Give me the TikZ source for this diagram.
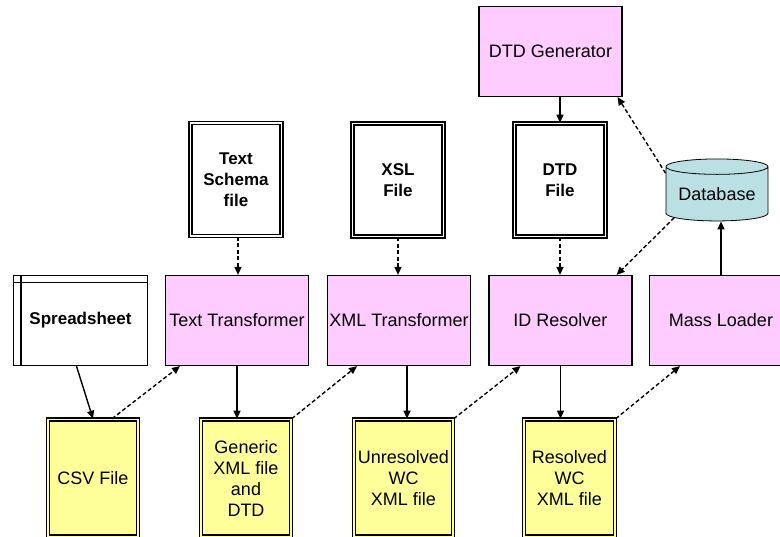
\documentclass[tikz,border=0pt]{standalone}
\usepackage{fontspec}
\setmainfont{Liberation Sans}
\usetikzlibrary{arrows.meta,shapes.geometric}
\definecolor{procpink}{HTML}{FFCCFF}
\definecolor{fileyellow}{HTML}{FFFF99}
\definecolor{dbblue}{HTML}{BBE0E3}
\tikzset{
  proc/.style={draw, line width=1.2pt, fill=procpink, minimum width=143pt, minimum height=90pt, inner sep=0pt},
  infile/.style={draw, line width=1.6pt, double=white, double distance=1.4pt, fill=white,
    minimum width=91pt, minimum height=113pt, inner sep=0pt, align=center, font=\fontsize{17}{21}\selectfont\bfseries},
  outfile/.style={draw, line width=1.6pt, double=fileyellow, double distance=1.4pt, fill=fileyellow,
    minimum height=117pt, inner sep=0pt, align=center},
  arr/.style={line width=1.4pt, -{Triangle[length=8pt,width=7pt]}},
  darr/.style={arr, dash pattern=on 4pt off 2.5pt}
}
\begin{document}
\begin{tikzpicture}[x=1pt, y=-1pt, font=\fontsize{18}{21}\selectfont]
    \useasboundingbox (0,0) rectangle (780,537);

    \node[proc] (gen) at (550.5,51.5) {DTD Generator};
    \node[cylinder, shape border rotate=90, aspect=0.2, draw, line width=0.8pt, fill=dbblue,
          minimum width=102pt, minimum height=62pt, inner sep=0pt] (db) at (717,194) {Database};

    \node[infile] (schema) at (236,179.5) {Text\\Schema\\file};
    \node[infile] (xsl) at (398,180) {XSL\\File};
    \node[infile] (dtd) at (560,180) {DTD\\File};

    \node[draw, line width=1.5pt, fill=white, minimum width=134pt, minimum height=90pt,
          font=\fontsize{17}{21}\selectfont\bfseries] (spread) at (80.5,320.5) {Spreadsheet};
    \draw[line width=1.5pt] ([xshift=8pt]spread.north west) -- ([xshift=8pt]spread.south west);
    \draw[line width=1.5pt] ([yshift=-8pt]spread.north west) -- ([yshift=-8pt]spread.north east);

    \node[proc] (tt) at (237,320.5) {Text Transformer};
    \node[proc] (xmlt) at (399,320.5) {XML Transformer};
    \node[proc] (idr) at (560.5,320.5) {ID Resolver};
    \node[proc] (ml) at (721,320.5) {Mass Loader};

    \node[outfile, minimum width=90pt] (csv) at (93,478) {CSV File};
    \node[outfile, minimum width=90pt] (gxml) at (246,478) {Generic\\XML file\\and\\DTD};
    \node[outfile, minimum width=99pt] (unres) at (403.5,478) {Unresolved\\WC\\XML file};
    \node[outfile, minimum width=91pt] (res) at (569.5,478) {Resolved\\WC\\XML file};

    \draw[arr] (dtd.north |- gen.south) -- (dtd.north);
    \draw[darr] (db.158) -- ([xshift=-5pt]gen.south east);
    \draw[darr] (db.209) -- ([xshift=-16pt]idr.north east);
    \draw[arr] (ml.north) -- (ml.north |- db.south);

    \draw[darr] ([xshift=2pt]schema.south) -- ([xshift=2pt]schema.south |- tt.north);
    \draw[darr] (xsl.south) -- (xsl.south |- xmlt.north);
    \draw[darr] (dtd.south) -- (dtd.south |- idr.north);

    \draw[arr] ([xshift=-4pt]spread.south) -- (csv.north);
    \draw[darr] ([xshift=19pt]csv.north) -- ([xshift=-57pt]tt.south);
    \draw[arr] (tt.south) -- (tt.south |- gxml.north);
    \draw[darr] (gxml.north east) -- ([xshift=-42pt]xmlt.south);
    \draw[arr] ([xshift=8pt]xmlt.south) -- ([xshift=8pt]xmlt.south |- unres.north);
    \draw[darr] (unres.north east) -- ([xshift=-40pt]idr.south);
    \draw[arr] (idr.south) -- (idr.south |- res.north);
    \draw[darr] (res.north east) -- ([xshift=-41pt]ml.south);
\end{tikzpicture}
\end{document}
